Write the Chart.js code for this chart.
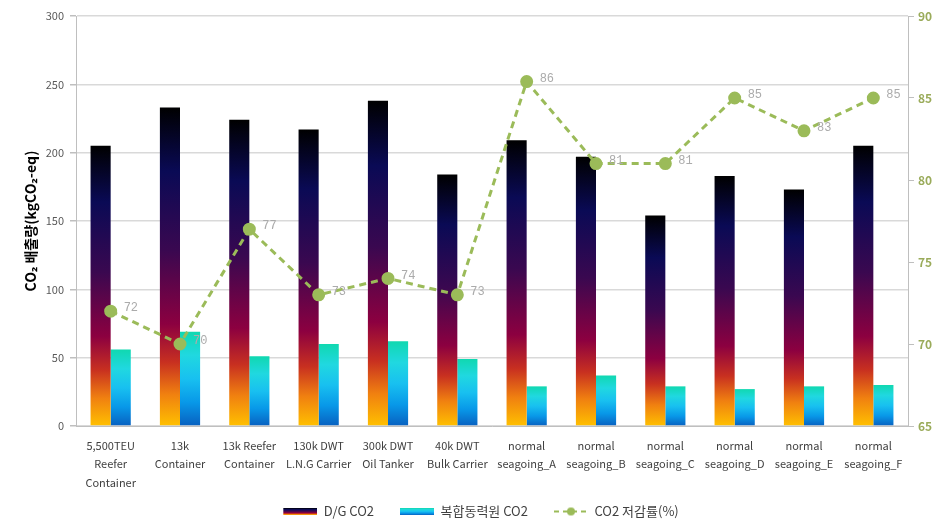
<!DOCTYPE html>
<html><head><meta charset="utf-8">
<script src="https://cdn.jsdelivr.net/npm/chart.js@4.4.1/dist/chart.umd.min.js"></script>
<style>html,body{margin:0;padding:0;background:#fff}#wrap{width:943px;height:532px}</style>
</head><body><div id="wrap"><canvas id="c" width="943" height="532"></canvas></div>
<script>
const categories = [
  ["5,500TEU","Reefer","Container"],["13k","Container"],["13k Reefer","Container"],
  ["130k DWT","L.N.G Carrier"],["300k DWT","Oil Tanker"],["40k DWT","Bulk Carrier"],
  ["normal","seagoing_A"],["normal","seagoing_B"],["normal","seagoing_C"],
  ["normal","seagoing_D"],["normal","seagoing_E"],["normal","seagoing_F"]
];
const dgCO2 = [205, 233, 224, 217, 238, 184, 209, 197, 154, 183, 173, 205];
const hybridCO2 = [56, 69, 51, 60, 62, 49, 29, 37, 29, 27, 29, 30];
const reductionPct = [72, 70, 77, 73, 74, 73, 86, 81, 81, 85, 83, 85];
const seriesNames = ["D/G CO2", "복합동력원 CO2", "CO2 저감률(%)"];
const leftTicks = [0, 50, 100, 150, 200, 250, 300];
const rightTicks = [65, 70, 75, 80, 85, 90];

const darkStops = [[0,'#000000'],[0.2,'#0a0a55'],[0.45,'#3a0850'],[0.68,'#8c0040'],[0.8,'#c83020'],[0.9,'#f08010'],[1,'#ffc000']];
const blueStops = [[0,'#10d8b0'],[0.25,'#20d8e0'],[0.5,'#18c0f0'],[0.75,'#0898e8'],[1,'#0860c0']];
const lineColor = '#9bbb59';
const FONT = '"Noto Sans CJK KR", "Noto Sans", sans-serif';
const GAP = 19;

function barGrad(stops){
  return function(ctx){
    const chart = ctx.chart;
    if (!chart.chartArea || ctx.type !== 'data') return stops[3][1];
    const ys = chart.scales.y;
    const top = ys.getPixelForValue(ctx.raw), bot = ys.getPixelForValue(0);
    const g = chart.ctx.createLinearGradient(0, top, 0, bot);
    stops.forEach(s => g.addColorStop(s[0], s[1]));
    return g;
  };
}
function swatch(stops){
  const c = document.createElement('canvas'); c.width = 34 + GAP; c.height = 7;
  const x = c.getContext('2d'); const g = x.createLinearGradient(0,0,0,7);
  stops.forEach(s => g.addColorStop(s[0], s[1])); x.fillStyle = g; x.fillRect(GAP,0,34,7);
  return c;
}
function lineSwatch(){
  const c = document.createElement('canvas'); c.width = 34 + GAP; c.height = 10;
  const x = c.getContext('2d'); x.strokeStyle = lineColor; x.lineWidth = 2; x.setLineDash([5,4]);
  x.beginPath(); x.moveTo(GAP,5); x.lineTo(GAP+34,5); x.stroke();
  x.fillStyle = lineColor; x.beginPath(); x.arc(GAP+17,5,4,0,Math.PI*2); x.fill();
  return c;
}
const swatches = [swatch(darkStops), swatch(blueStops), lineSwatch()];

const labelPlugin = {
  id: 'pointLabels',
  afterDatasetsDraw(chart){
    const meta = chart.getDatasetMeta(2);
    const c = chart.ctx; c.save();
    c.font = '12px "Liberation Mono", "DejaVu Sans Mono", monospace';
    c.fillStyle = '#ababab'; c.textBaseline = 'middle'; c.textAlign = 'left';
    meta.data.forEach((p, i) => {
      c.fillText(String(reductionPct[i]), p.x + 13, p.y - 3);
    });
    c.restore();
  }
};

new Chart(document.getElementById('c'), {
  data: {
    labels: categories,
    datasets: [
      { type: 'bar', label: seriesNames[0], data: dgCO2, yAxisID: 'y', backgroundColor: barGrad(darkStops), order: 0, barPercentage: 1.0, categoryPercentage: 0.58 },
      { type: 'bar', label: seriesNames[1], data: hybridCO2, yAxisID: 'y', backgroundColor: barGrad(blueStops), order: 0, barPercentage: 1.0, categoryPercentage: 0.58 },
      { type: 'line', label: seriesNames[2], data: reductionPct, yAxisID: 'y1', borderColor: lineColor, backgroundColor: lineColor, borderWidth: 3, borderDash: [7,5], pointRadius: 5, pointBackgroundColor: lineColor, pointBorderColor: lineColor, tension: 0, order: -1 }
    ]
  },
  plugins: [labelPlugin],
  options: {
    responsive: false, animation: false,
    layout: { padding: { top: 16, right: 0, left: 0, bottom: 4 } },
    plugins: {
      tooltip: { enabled: false },
      legend: {
        position: 'bottom',
        labels: {
          usePointStyle: true, pointStyleWidth: 34 + GAP, color: '#404040', padding: 7,
          font: { family: FONT, size: 13 },
          generateLabels(chart){
            return seriesNames.map((n, i) => ({ text: n, pointStyle: swatches[i], fillStyle: 'transparent', strokeStyle: 'transparent', lineWidth: 0, datasetIndex: i, hidden: false, fontColor: '#404040' }));
          }
        }
      }
    },
    scales: {
      x: {
        grid: { display: false, drawTicks: false },
        border: { display: true, color: '#bfbfbf' },
        ticks: { color: '#404040', padding: 10, maxRotation: 0, autoSkip: false, font: { family: FONT, size: 11, lineHeight: 1.7 } },
        afterFit(s){ s.height = 72; }
      },
      y: {
        position: 'left', min: 0, max: 300,
        afterBuildTicks(s){ s.ticks = leftTicks.map(v => ({ value: v })); },
        grid: { color: '#d9d9d9', lineWidth: 1.5, drawTicks: true, tickLength: 6, tickColor: '#bfbfbf' },
        border: { display: true, color: '#bfbfbf' },
        ticks: { color: '#595959', padding: 6, font: { family: FONT, size: 11 } },
        title: { display: true, text: 'CO₂ 배출량(kgCO₂-eq)', color: '#000', font: { family: FONT, size: 14, weight: 'bold' }, padding: { top: 22, bottom: 0 } },
        afterFit(s){ s.width = 76; }
      },
      y1: {
        position: 'right', min: 65, max: 90,
        afterBuildTicks(s){ s.ticks = rightTicks.map(v => ({ value: v })); },
        grid: { drawOnChartArea: false, drawTicks: true, tickLength: 6, tickColor: '#bfbfbf' },
        border: { display: true, color: '#bfbfbf' },
        ticks: { color: '#9aab5a', padding: 4, font: { family: FONT, size: 12, weight: 'bold' } },
        afterFit(s){ s.width = 35; }
      }
    }
  }
});
</script></body></html>
